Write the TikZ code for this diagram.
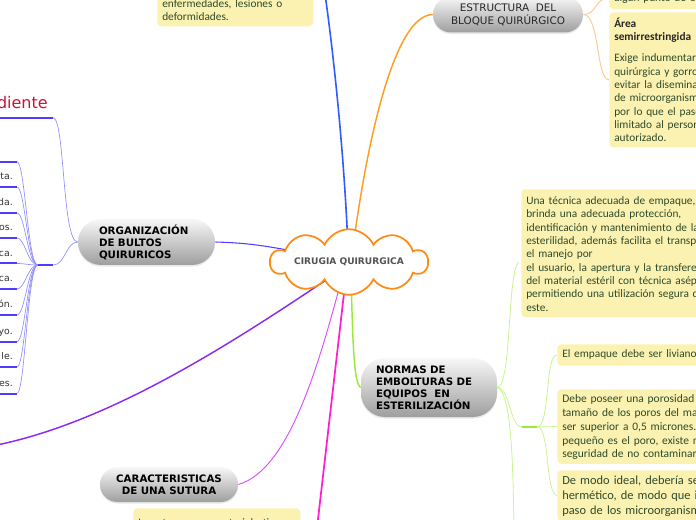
\documentclass[tikz,border=0pt]{standalone}
\usepackage{fontspec}
\setmainfont{DejaVu Sans}
\newfontfamily\boxfont{Carlito}
\usetikzlibrary{shapes.symbols,shadows,calc,backgrounds}

\definecolor{ybfill}{HTML}{FBF2B2}
\definecolor{ybtext}{HTML}{2E4A2A}
\definecolor{cloudor}{HTML}{FF8A14}
\definecolor{lnblue}{HTML}{2F5BFF}
\definecolor{lnorange}{HTML}{FF9D1F}
\definecolor{lnorangel}{HTML}{FFC98A}
\definecolor{lnindigo}{HTML}{4E3DFF}
\definecolor{lnindigol}{HTML}{8F8FFF}
\definecolor{lnpurple}{HTML}{8A2BEE}
\definecolor{lnorchid}{HTML}{DA4CFF}
\definecolor{lnpink}{HTML}{FF1FCF}
\definecolor{lngreen}{HTML}{9BEA3A}
\definecolor{lngreenl}{HTML}{C8F590}
\definecolor{crimsonred}{HTML}{CC1238}

\begin{document}
\begin{tikzpicture}[x=0.75pt,y=-0.75pt,
  pill/.style={rectangle, top color=white!97!black, bottom color=black!38, draw=none,
    drop shadow={opacity=0.18,shadow xshift=0pt,shadow yshift=-1.2pt},
    font=\fontsize{7.7}{9}\selectfont\bfseries, text=black},
  ybox/.style={rectangle, fill=ybfill, rounded corners=3pt, anchor=north west,
    inner xsep=3.75pt, inner ysep=3pt, align=left, text=ybtext,
    font=\boxfont\fontsize{8.5}{10}\selectfont},
  litem/.style={anchor=south east, text width=45pt, align=right, inner xsep=3pt,
    text depth=2pt, inner ysep=3.25pt, font=\fontsize{7}{9}\selectfont, text=black!80},
  uline/.style={lnindigo, line width=1.5pt},
  subl/.style={lnindigol, line width=0.5pt},
  subg/.style={lngreenl, line width=0.6pt},
  subo/.style={lnorangel, line width=0.7pt}
]
\useasboundingbox (0,0) rectangle (696,520);

% ---------- central cloud ----------
\node[cloud, cloud puffs=10, cloud puff arc=130, aspect=4.2, draw=cloudor, line width=1.3pt,
  fill=white, minimum width=118pt, minimum height=30pt, inner sep=0pt,
  font=\fontsize{6.8}{8}\selectfont\bfseries, text=black!68] (c) at (349,262) {CIRUGIA QUIRURGICA};

% ---------- main topics ----------
\node[pill, minimum width=112.5pt, minimum height=27pt, rounded corners=13.5pt, align=center,
  font=\fontsize{7.8}{9.75}\selectfont, text=black!85] (es) at (508,14.5) {ESTRUCTURA\ \ DEL\\BLOQUE QUIRÚRGICO};
\node[pill, minimum width=102.75pt, minimum height=34.5pt, rounded corners=17.25pt,
  text width=71.25pt, inner xsep=15.75pt, align=left] (org) at (146.5,242) {ORGANIZACIÓN\\DE BULTOS\\QUIRURICOS};
\node[pill, minimum width=103.5pt, minimum height=26.25pt, rounded corners=13.1pt, align=center] (car) at (169,484.5) {CARACTERISTICAS\\DE UNA SUTURA};
\node[pill, minimum width=102pt, minimum height=44.25pt, rounded corners=18pt,
  text width=79.5pt, inner xsep=11.25pt, align=left] (nor) at (429,387.5) {NORMAS DE\\EMBOLTURAS DE\\EQUIPOS\ \ EN\\ESTERILIZACIÓN};

% ---------- yellow boxes ----------
\node[ybox, text width=109.5pt, minimum height=25.8pt] (tl) at (157,-8.4) {\strut enfermedades, lesiones o\\deformidades.};
\node[ybox, text width=200pt, minimum height=14.55pt] (tr) at (609,-12.4) {\strut algún punto de entrada};
\node[ybox, text width=200pt, minimum height=101.25pt] (ar) at (609,12)
  {\strut{\color{black!85}\bfseries Área}\\{\color{black!85}\bfseries semirrestringida}\\[6pt]
   Exige indumentaria\\quirúrgica y gorro para\\evitar la diseminación\\de microorganismos,\\por lo que el paso es\\limitado al personal\\autorizado.};
\node[ybox, text width=250pt, minimum height=96pt] (ut) at (521,189)
  {\strut Una técnica adecuada de empaque,\\brinda una adecuada protección,\\identificación y mantenimiento de la\\esterilidad, además facilita el transporte,\\el manejo por\\el usuario, la apertura y la transferencia\\del material estéril con técnica aséptica,\\permitiendo una utilización segura de\\este.};
\node[ybox, text width=250pt, minimum height=14.25pt] (emp) at (557,344) {\strut El empaque debe ser liviano.};
\node[ybox, text width=250pt, minimum height=55.5pt, font=\boxfont\fontsize{8.6}{10.3}\selectfont] (deb) at (557,389)
  {\strut Debe poseer una porosidad adecuada,\\tamaño de los poros del material\\ser superior a 0,5 micrones. Mientras más\\pequeño es el poro, existe mayor\\seguridad de no contaminar el};
\node[ybox, text width=250pt, minimum height=35.25pt, font=\boxfont\fontsize{9.3}{11.25}\selectfont] (dem) at (557,470)
  {\strut De modo ideal, debería ser\\hermético, de modo que impida el\\paso de los microorganismos.};
\node[ybox, text width=117.75pt, minimum height=30pt, inner ysep=6.3pt] (sut) at (133,508) {\strut La sutura es un material utilizado};

% ---------- left branch: diente + list ----------
\node[anchor=south east, text width=60pt, align=right, inner xsep=3.75pt, text depth=3pt, inner ysep=3.75pt,
  font=\fontsize{12}{14}\selectfont, text=crimsonred] (d) at (53,117.7) {diente};
\node[minimum width=11.25pt, minimum height=0pt, inner sep=0pt] (j) at (45.5,265) {};
\foreach \yy/\tt [count=\i] in {161.7/{}, 187/sta., 213/da., 238/os., 263.5/ca., 289/ca., 315/ón., 341.7/yo., 367/le., 393.5/es.}{
  \node[litem] (l\i) at (17,\yy) {\tt};
}
\node[minimum width=11.25pt, minimum height=0pt, inner sep=0pt] (j2) at (529.5,427) {};

\coordinate (topb) at (325,-6);
\coordinate (pl) at (-8,446);
\coordinate (pk) at (317,528);
\coordinate (nb) at (514,528);

% ---------- connectors ----------
\begin{scope}[on background layer]
  \draw[lnblue, line width=1.2pt] ($(c.center)+(-1,-14)$) .. controls (344,150) and (333,50) .. (topb);
  \draw[lnorange, line width=1.1pt] ($(c.center)+(4,-14)$) .. controls (363,170) and (390,15) .. (es.west);
  \draw[subo] (es.east) .. controls (597,15) and (595,-3) .. (tr.west);
  \draw[subo] (es.east) .. controls (600,15) and (596,80) .. (ar.west);

  \draw[lnindigo, line width=0.8pt] (org.east) .. controls (250,243) and (265,246) .. ($(c.center)+(-50,-10)$);
  \draw[subl] (d.south east) .. controls (65,117.7) and (62,242) .. (org.west);
  \draw[subl] (j.east) .. controls (65,265) and (66,242) .. (org.west);
  \foreach \i in {1,...,10}{
    \draw[subl] (l\i.south east) .. controls +(8,0) and +(-10,0) .. (j.west);
  }

  \draw[lnpurple, line width=1.1pt] ($(c.center)+(-17,14)$) .. controls (222,350) and (105,424) .. (pl);
  \draw[lnorchid, line width=0.7pt] (car.east) .. controls (290,470) and (320,360) .. ($(c.center)+(-6,12)$);
  \draw[lnpink, line width=1.3pt] ($(c.center)+(-3,14)$) -- (pk);
  \draw[lngreen, line width=1.1pt] ($(c.center)+(2,14)$) .. controls (353,350) and (354,383) .. (nor.west);

  \draw[subg] (nor.east) .. controls (512,386) and (507,270) .. ($(ut.north west)+(-2,73)$);
  \draw[subg] (nor.east) .. controls (512,392) and (513,470) .. (nb);
  \draw[subg] (nor.east) .. controls (510,388) and (510,427) .. (j2.west);
  \draw[subg] (j2.east) .. controls (550,427) and (545,354) .. (emp.west);
  \draw[subg] (j2.east) -- (deb.west);
  \draw[subg] (j2.east) .. controls (550,427) and (545,493) .. (dem.west);
\end{scope}

% underlines
\draw[uline] (d.south west) -- (d.south east);
\draw[uline] (j.west) -- (j.east);
\foreach \i in {1,...,10}{
  \draw[uline] (l\i.south west) -- (l\i.south east);
}
\draw[lngreen, line width=1.6pt] (j2.west) -- (j2.east);
\end{tikzpicture}
\end{document}
